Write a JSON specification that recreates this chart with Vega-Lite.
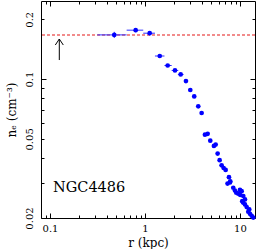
{
  "$schema": "https://vega.github.io/schema/vega-lite/v6.json",
  "width": 214,
  "height": 217,
  "autosize": {"type": "none"},
  "padding": {"left": 41, "top": 1, "right": 2, "bottom": 31},
  "config": {
    "view": {"stroke": "black", "strokeWidth": 1},
    "font": "DejaVu Serif",
    "axis": {
      "domain": false, "grid": false, "tickColor": "black", "tickWidth": 1,
      "labelColor": "black", "titleColor": "black",
      "labelFont": "DejaVu Serif", "titleFont": "DejaVu Serif",
      "labelFontSize": 10, "titleFontSize": 12, "titleFontWeight": "normal",
      "labelFlush": false, "labelOverlap": false
    }
  },
  "data": {
    "values": [
      {"r": 0.475, "ne": 0.1668, "rlo": 0.315, "rhi": 0.641, "nlo": 0.161, "nhi": 0.1728},
      {"r": 0.798, "ne": 0.1762, "rlo": 0.641, "rhi": 0.959, "nlo": 0.172, "nhi": 0.180},
      {"r": 1.121, "ne": 0.1701, "rlo": 0.959, "rhi": 1.274, "nlo": 0.166, "nhi": 0.174},
      {"r": 1.431, "ne": 0.1306, "rlo": 1.274, "rhi": 1.604},
      {"r": 1.734, "ne": 0.117, "rlo": 1.604, "rhi": 1.91},
      {"r": 2.069, "ne": 0.1105, "rlo": 1.91, "rhi": 2.241},
      {"r": 2.376, "ne": 0.1055, "rlo": 2.22, "rhi": 2.55},
      {"r": 2.70, "ne": 0.0977},
      {"r": 3.00, "ne": 0.0881},
      {"r": 3.30, "ne": 0.0818},
      {"r": 3.64, "ne": 0.0729},
      {"r": 3.95, "ne": 0.0675},
      {"r": 4.28, "ne": 0.0525},
      {"r": 4.57, "ne": 0.0530},
      {"r": 4.87, "ne": 0.0490},
      {"r": 5.32, "ne": 0.0461},
      {"r": 5.55, "ne": 0.0468},
      {"r": 5.82, "ne": 0.0422},
      {"r": 6.11, "ne": 0.0391},
      {"r": 6.41, "ne": 0.0368},
      {"r": 6.73, "ne": 0.0357},
      {"r": 7.07, "ne": 0.0349},
      {"r": 7.66, "ne": 0.0321},
      {"r": 7.91, "ne": 0.0306},
      {"r": 7.40, "ne": 0.0298},
      {"r": 7.85, "ne": 0.0302},
      {"r": 8.50, "ne": 0.0284},
      {"r": 8.85, "ne": 0.0275},
      {"r": 9.14, "ne": 0.0268},
      {"r": 9.60, "ne": 0.0265},
      {"r": 10.07, "ne": 0.0261},
      {"r": 10.0, "ne": 0.0277},
      {"r": 10.42, "ne": 0.0273},
      {"r": 10.84, "ne": 0.0258},
      {"r": 10.57, "ne": 0.0243},
      {"r": 10.8, "ne": 0.0239},
      {"r": 11.3, "ne": 0.0248},
      {"r": 11.29, "ne": 0.0234},
      {"r": 11.77, "ne": 0.0227},
      {"r": 12.23, "ne": 0.0215},
      {"r": 12.74, "ne": 0.0210},
      {"r": 12.53, "ne": 0.0221},
      {"r": 13.28, "ne": 0.0205},
      {"r": 13.8, "ne": 0.0201}
    ]
  },
  "resolve": {"axis": {"x": "independent", "y": "independent"}},
  "layer": [
    {
      "mark": {"type": "rule", "color": "#f08a8a", "strokeWidth": 0.8, "strokeDash": [3, 2]},
      "encoding": {
        "y": {"datum": 0.167, "type": "quantitative", "scale": {"type": "log", "domain": [0.02, 0.247], "nice": false}, "axis": null}
      }
    },
    {
      "transform": [{"filter": "isValid(datum.rlo)"}],
      "mark": {"type": "rule", "color": "#3030ff", "strokeWidth": 1},
      "encoding": {
        "x": {"field": "rlo", "type": "quantitative",
          "scale": {"type": "log", "domain": [0.0804, 14.4], "nice": false},
          "axis": {"orient": "bottom", "values": [0.09, 0.2, 0.3, 0.4, 0.5, 0.6, 0.7, 0.8, 0.9, 2, 3, 4, 5, 6, 7, 8, 9], "tickSize": -3, "labels": false, "title": null}},
        "x2": {"field": "rhi"},
        "y": {"field": "ne", "type": "quantitative",
          "scale": {"type": "log", "domain": [0.02, 0.247], "nice": false},
          "axis": {"orient": "left", "values": [0.02, 0.03, 0.04, 0.05, 0.06, 0.07, 0.08, 0.09, 0.2], "tickSize": -3, "labelPadding": 10, "labelAngle": -90, "labelAlign": "center", "labelBaseline": "bottom",
            "labelExpr": "(datum.value == 0.02 || datum.value == 0.05 || datum.value == 0.2) ? format(datum.value, '~g') : ''", "title": null}}
      }
    },
    {
      "transform": [{"filter": "isValid(datum.nlo)"}],
      "mark": {"type": "rule", "color": "#3030ff", "strokeWidth": 1},
      "encoding": {
        "x": {"field": "r", "type": "quantitative",
          "scale": {"type": "log", "domain": [0.0804, 14.4], "nice": false},
          "axis": {"orient": "top", "values": [0.1, 1, 10], "tickSize": -5, "labels": false, "title": null}},
        "y": {"field": "nlo", "type": "quantitative",
          "scale": {"type": "log", "domain": [0.02, 0.247], "nice": false},
          "axis": {"orient": "right", "values": [0.1], "tickSize": -5, "labels": false, "title": null}},
        "y2": {"field": "nhi"}
      }
    },
    {
      "mark": {"type": "point", "filled": true, "color": "#0000ff", "size": 22, "opacity": 1},
      "encoding": {
        "x": {"field": "r", "type": "quantitative",
          "scale": {"type": "log", "domain": [0.0804, 14.4], "nice": false},
          "axis": {"orient": "bottom", "values": [0.1, 1, 10], "tickSize": -5, "labelPadding": 10, "format": "~g", "title": "r (kpc)", "titlePadding": 4}},
        "y": {"field": "ne", "type": "quantitative",
          "scale": {"type": "log", "domain": [0.02, 0.247], "nice": false},
          "axis": {"orient": "left", "values": [0.1], "tickSize": -5, "labelPadding": 12, "labelAngle": -90, "labelAlign": "center", "labelBaseline": "bottom", "format": "~g", "title": "nₑ (cm⁻³)", "titlePadding": 6}}
      }
    },
    {
      "data": {"values": [{"r": 0.1253, "ne": 0.159}]},
      "mark": {"type": "point", "shape": "M-1,1.5L0,0L1,1.5M0,0L0,5.25", "filled": false, "stroke": "black", "strokeWidth": 1, "size": 64, "opacity": 1},
      "encoding": {
        "x": {"field": "r", "type": "quantitative",
          "scale": {"type": "log", "domain": [0.0804, 14.4], "nice": false},
          "axis": {"orient": "top", "values": [0.09, 0.2, 0.3, 0.4, 0.5, 0.6, 0.7, 0.8, 0.9, 2, 3, 4, 5, 6, 7, 8, 9], "tickSize": -3, "labels": false, "title": null}},
        "y": {"field": "ne", "type": "quantitative",
          "scale": {"type": "log", "domain": [0.02, 0.247], "nice": false},
          "axis": {"orient": "right", "values": [0.02, 0.03, 0.04, 0.05, 0.06, 0.07, 0.08, 0.09, 0.2], "tickSize": -3, "labels": false, "title": null}}
      }
    },
    {
      "data": {"values": [{"r": 0.1076, "ne": 0.0282, "label": "NGC4486"}]},
      "mark": {"type": "text", "align": "left", "baseline": "middle", "fontSize": 14.5, "font": "DejaVu Serif", "color": "black"},
      "encoding": {
        "x": {"field": "r", "type": "quantitative", "axis": null},
        "y": {"field": "ne", "type": "quantitative", "axis": null},
        "text": {"field": "label"}
      }
    }
  ]
}
